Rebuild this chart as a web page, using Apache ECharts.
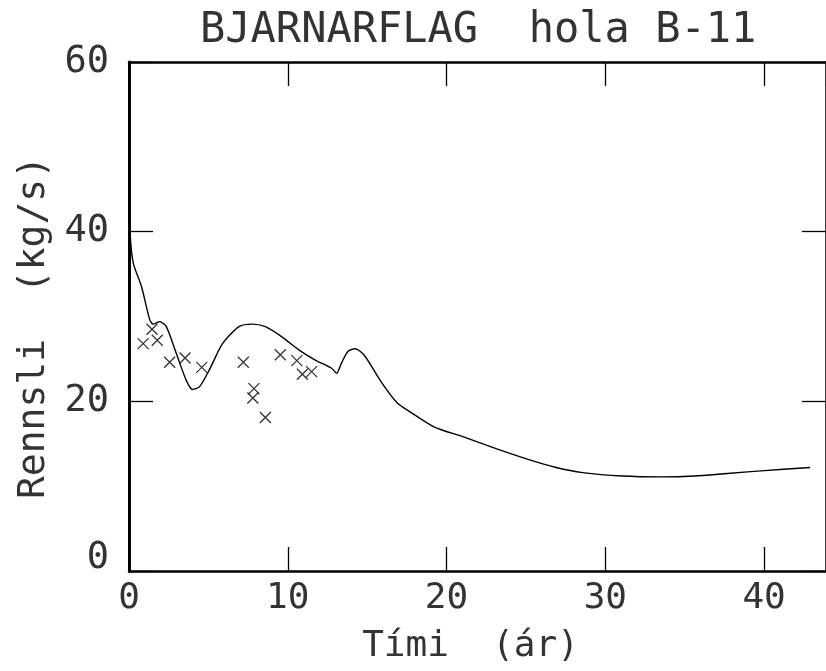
<!DOCTYPE html>
<html>
<head>
<meta charset="utf-8">
<script src="https://cdn.jsdelivr.net/npm/echarts@6/dist/echarts.min.js"></script>
<style>html,body{margin:0;padding:0;background:#fff}#c{width:826px;height:671px}</style>
</head>
<body>
<div id="c"></div>
<script>
const titleText = 'BJARNARFLAG  hola B-11';
const xName = 'Tími  (ár)';
const yName = 'Rennsli  (kg/s)';
const xTicks = [0, 10, 20, 30, 40];
const yTicks = [0, 20, 40, 60];

// simulated flow curve
const modelYears = [0, 0.08, 0.27, 0.79, 1.31, 1.52, 1.94, 2.35, 2.97, 3.6, 4.0, 4.43, 5.06, 5.89, 6.93, 7.76, 8.59, 9.63, 10.67, 11.7, 12.76, 13.07, 13.38, 13.8, 14.25, 14.83, 15.88, 16.9, 17.75, 19.2, 21.07, 23.16, 25.24, 26.9, 28.57, 31.06, 33.56, 35.6, 37.7, 39.8, 42.9];
const modelFlow = [45, 39.5, 36.3, 33.5, 29.6, 29.1, 29.4, 28.8, 25.7, 22.5, 21.4, 21.7, 23.7, 26.8, 28.8, 29.1, 28.8, 27.6, 26.1, 24.9, 23.9, 23.3, 24.5, 25.9, 26.2, 25.4, 22.3, 19.8, 18.7, 17.0, 15.8, 14.4, 13.1, 12.2, 11.6, 11.2, 11.1, 11.2, 11.5, 11.8, 12.2];

// measured flow
const measYears = [0.89, 1.45, 1.78, 2.56, 3.53, 4.58, 7.2, 7.87, 7.8, 8.59, 9.53, 10.57, 10.92, 11.5];
const measFlow = [26.8, 28.5, 27.2, 24.6, 25.1, 24.0, 24.6, 21.5, 20.4, 18.1, 25.5, 24.8, 23.2, 23.5];

const FONT = 'DejaVu Sans Mono';
const ink = '#333';

const chart = echarts.init(document.getElementById('c'), null, {renderer: 'canvas'});
chart.setOption({
  animation: false,
  backgroundColor: '#fff',
  title: {
    text: titleText,
    left: 195, top: 5,
    textStyle: {fontFamily: FONT, fontSize: 42, fontWeight: 'normal', color: ink}
  },
  grid: {left: 129, top: 62, right: -6, bottom: 100},
  xAxis: [{
    type: 'value', min: 0, max: 43.9, interval: 10, position: 'bottom',
    name: xName, nameLocation: 'middle', nameGap: 58,
    nameTextStyle: {fontFamily: FONT, fontSize: 36, color: ink, padding: [0, 14, 0, 0]},
    axisLine: {show: true, onZero: false, lineStyle: {color: '#000', width: 2.5}},
    axisTick: {show: true, inside: true, length: 24, lineStyle: {color: '#000', width: 1.3}},
    axisLabel: {show: true, margin: 10, fontFamily: FONT, fontSize: 36, color: ink, showMaxLabel: false,
      formatter: v => (xTicks.indexOf(v) >= 0 ? String(v) : '')},
    splitLine: {show: false}
  }, {
    type: 'value', min: 0, max: 43.9, interval: 10, position: 'top',
    axisLine: {show: true, onZero: false, lineStyle: {color: '#000', width: 2.5}},
    axisTick: {show: true, inside: true, length: 24, lineStyle: {color: '#000', width: 1.3}},
    axisLabel: {show: false}, splitLine: {show: false}
  }],
  yAxis: [{
    type: 'value', min: 0, max: 60, interval: 20, position: 'left',
    name: yName, nameLocation: 'middle', nameGap: 76, nameRotate: 90,
    nameTextStyle: {fontFamily: FONT, fontSize: 38, color: ink, padding: [0, 22, 0, 0]},
    axisLine: {show: true, onZero: false, lineStyle: {color: '#000', width: 3}},
    axisTick: {show: true, inside: true, length: 24, lineStyle: {color: '#000', width: 1.3}},
    axisLabel: {show: true, margin: 20, fontFamily: FONT, fontSize: 37, color: ink,
      formatter: v => (v === 0 ? '{z|0}' : (yTicks.indexOf(v) >= 0 ? String(v) : '')),
      rich: {z: {fontFamily: FONT, fontSize: 37, color: ink, padding: [0, 0, 26, 0]}}},
    splitLine: {show: false}
  }, {
    type: 'value', min: 0, max: 60, interval: 20, position: 'right',
    axisLine: {show: true, onZero: false, lineStyle: {color: '#000', width: 2.5}},
    axisTick: {show: true, inside: true, length: 24, lineStyle: {color: '#000', width: 1.3}},
    axisLabel: {show: false}, splitLine: {show: false}
  }],
  series: [{
    type: 'line', xAxisIndex: 0, yAxisIndex: 0,
    data: modelYears.map((x, i) => [x, modelFlow[i]]),
    smooth: 0.25, showSymbol: false, symbol: 'none',
    lineStyle: {color: '#000', width: 1.4}, z: 3
  }, {
    type: 'scatter', xAxisIndex: 0, yAxisIndex: 0,
    data: measYears.map((x, i) => [x, measFlow[i]]),
    symbol: 'path://M0,0L10,10M10,0L0,10', symbolSize: 11,
    itemStyle: {color: 'rgba(0,0,0,0)', borderColor: '#000', borderWidth: 1.3}, z: 4
  }]
});
</script>
</body>
</html>
